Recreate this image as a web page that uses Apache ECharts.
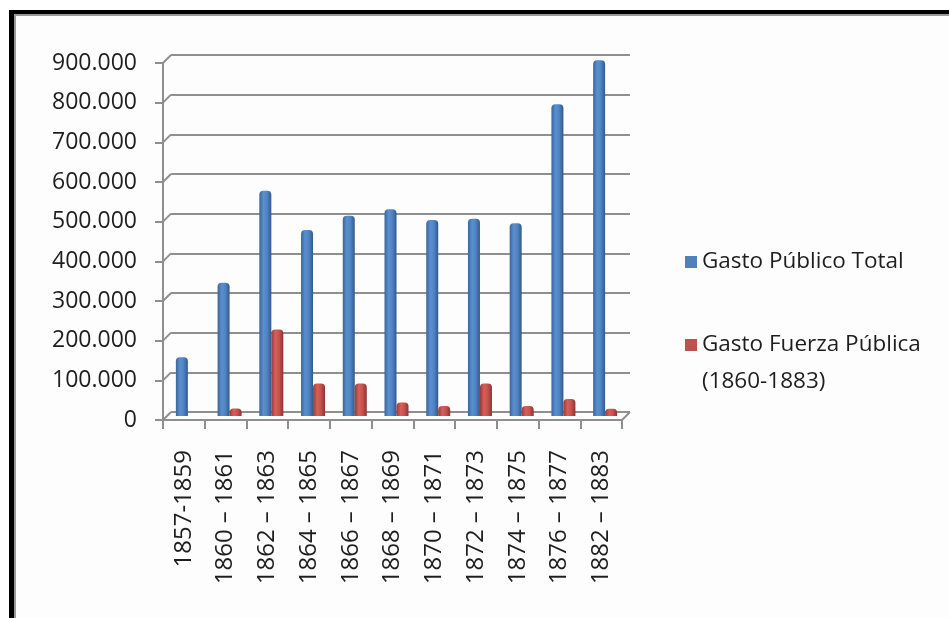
<!DOCTYPE html>
<html>
<head>
<meta charset="utf-8">
<script src="https://cdn.jsdelivr.net/npm/echarts@6/dist/echarts.min.js"></script>
<style>
  html, body { margin: 0; padding: 0; background: #ffffff; width: 949px; height: 618px; overflow: hidden; }
  #frame { position: absolute; left: 9px; top: 10px; width: 1000px; height: 700px;
           background: #fdfdfd; border-left: 5px solid #000; border-top: 4px solid #000;
           box-shadow: inset 2px 2px 0 #9a9a9a; }
  #chart { position: absolute; left: 0; top: 0; width: 949px; height: 618px; }
</style>
</head>
<body>
<div id="frame"></div>
<div id="chart"></div>
<script>
// ---- data ----
var categories = ['1857-1859', '1860 \u2013 1861', '1862 \u2013 1863', '1864 \u2013 1865', '1866 \u2013 1867',
  '1868 \u2013 1869', '1870 \u2013 1871', '1872 \u2013 1873', '1874 \u2013 1875', '1876 \u2013 1877', '1882 \u2013 1883'];
var gastoTotal = [148000, 336000, 568000, 469000, 505000, 521000, 494000, 497000, 486000, 786000, 897000];
var gastoFuerza = [null, 19000, 218000, 82000, 82000, 34000, 25000, 82000, 25000, 43000, 18000];
var yTicks = [0, 100000, 200000, 300000, 400000, 500000, 600000, 700000, 800000, 900000];
var seriesNames = ['Gasto Público Total', 'Gasto Fuerza Pública (1860-1883)'];

var FONT = '"Open Sans", "Liberation Sans", sans-serif';
var GRID_COLOR = '#8f8f8f';
var DEPTH = 8;

function fmt(v) { return v === 0 ? '0' : (v / 1000).toFixed(0) + '.000'; }

var chart = echarts.init(document.getElementById('chart'), null, { renderer: 'canvas' });

var yBase = { type: 'value', min: 0, max: 900000, interval: 100000 };

var option = {
  backgroundColor: 'transparent',
  animation: false,
  grid: [
    { left: 163, top: 63, width: 459, height: 357 },                       // front
    { left: 163 + DEPTH, top: 63 - DEPTH, width: 459, height: 357 },       // back wall
    { left: 163 + DEPTH / 2, top: 63 - DEPTH / 2, width: 459, height: 357 } // bars
  ],
  xAxis: [
    { type: 'category', gridIndex: 0, data: categories,
      axisLine: { show: true, lineStyle: { color: GRID_COLOR, width: 2 } },
      axisTick: { show: true, length: 9, lineStyle: { color: GRID_COLOR, width: 2 } },
      axisLabel: { rotate: 90, margin: 30, fontSize: 24, fontFamily: FONT, color: '#1e1e1e', interval: 0 },
      splitLine: { show: false } },
    { type: 'category', gridIndex: 1, data: categories, show: false },
    { type: 'category', gridIndex: 2, data: categories, show: false }
  ],
  yAxis: [
    Object.assign({}, yBase, { gridIndex: 0,
      axisLine: { show: true, lineStyle: { color: GRID_COLOR, width: 2 } },
      axisTick: { show: true, length: 8, lineStyle: { color: GRID_COLOR, width: 2 } },
      axisLabel: { margin: 26, fontSize: 23, fontFamily: FONT, color: '#1e1e1e', formatter: fmt },
      splitLine: { show: false } }),
    Object.assign({}, yBase, { gridIndex: 1,
      axisLine: { show: false }, axisTick: { show: false }, axisLabel: { show: false },
      splitLine: { show: true, lineStyle: { color: GRID_COLOR, width: 2 } } }),
    Object.assign({}, yBase, { gridIndex: 2, show: false, splitLine: { show: false } })
  ],
  legend: [
    { data: [{ name: seriesNames[0], itemStyle: { color: '#4f81bd' } }],
      left: 685, top: 248, padding: 0, itemWidth: 12, itemHeight: 12, icon: 'rect',
      textStyle: { fontSize: 22.5, fontFamily: FONT, color: '#1e1e1e', lineHeight: 28 } },
    { data: [{ name: seriesNames[1], itemStyle: { color: '#c0504d' } }],
      left: 685, top: 289.5, padding: 0, itemWidth: 12, itemHeight: 12, icon: 'rect',
      formatter: function (n) { return ' \n' + n.replace(' (', '\n('); },
      textStyle: { fontSize: 22.5, fontFamily: FONT, color: '#1e1e1e', lineHeight: 37 } }
  ],
  series: [
    { name: 'depthEdges', type: 'custom', xAxisIndex: 0, yAxisIndex: 0, silent: true, z: 1,
      data: yTicks.map(function (v) { return [0, v]; }).concat([[-1, 0]]),
      renderItem: function (params, api) {
        var cs = params.coordSys;
        var y = api.coord([0, api.value(1)])[1];
        var x = api.value(0) === -1 ? cs.x + cs.width : cs.x;
        return { type: 'line', shape: { x1: x, y1: y, x2: x + DEPTH, y2: y - DEPTH },
                 style: { stroke: GRID_COLOR, lineWidth: 2 } };
      } },
    { name: seriesNames[0], type: 'bar', xAxisIndex: 2, yAxisIndex: 2, data: gastoTotal,
      barWidth: 12, barGap: '0%', z: 3,
      itemStyle: { borderRadius: [4, 4, 0, 0],
        color: new echarts.graphic.LinearGradient(0, 0, 1, 0, [
          { offset: 0, color: '#3a659c' }, { offset: 0.35, color: '#5b90d0' },
          { offset: 0.65, color: '#4f83c2' }, { offset: 1, color: '#34598a' }]) } },
    { name: seriesNames[1], type: 'bar', xAxisIndex: 2, yAxisIndex: 2, data: gastoFuerza,
      barWidth: 12, barGap: '0%', z: 3,
      itemStyle: { borderRadius: [4, 4, 0, 0],
        color: new echarts.graphic.LinearGradient(0, 0, 1, 0, [
          { offset: 0, color: '#9a3a37' }, { offset: 0.35, color: '#d75f5b' },
          { offset: 0.65, color: '#c4524e' }, { offset: 1, color: '#8c3431' }]) } }
  ]
};
chart.setOption(option);
</script>
</body>
</html>
